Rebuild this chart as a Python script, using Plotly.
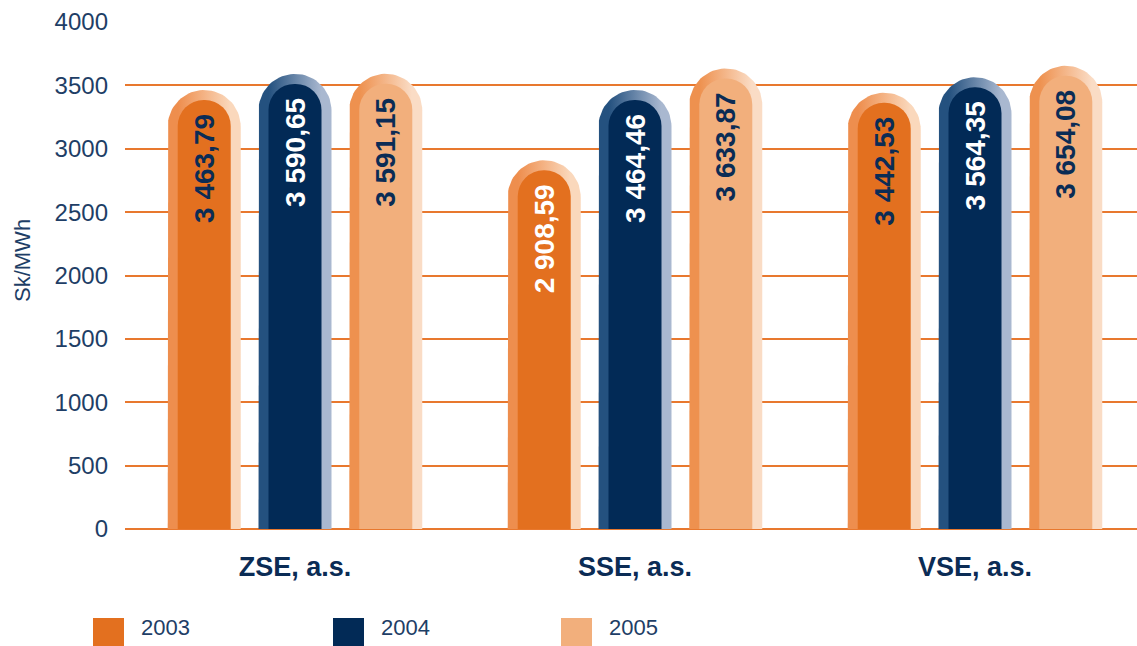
import numpy as np
import plotly.graph_objects as go

# ---------------- data ----------------
categories = ["ZSE, a.s.", "SSE, a.s.", "VSE, a.s."]
years = ["2003", "2004", "2005"]
v2003 = [3463.79, 2908.59, 3442.53]
v2004 = [3590.65, 3464.46, 3564.35]
v2005 = [3591.15, 3633.87, 3654.08]
y_ticks = [0, 500, 1000, 1500, 2000, 2500, 3000, 3500, 4000]
y_title = "Sk/MWh"

# ---------------- style ----------------
W, H = 1137, 646
ML, MR, MT, MB = 125, 0, 22, 117
PW, PH = W - ML - MR, H - MT - MB
X_RANGE = [-0.5, -0.5 + PW / 340.0]
Y_RANGE = [0, 4000]
XPD = (X_RANGE[1] - X_RANGE[0]) / PW      # data units per px (x)
YPD = (Y_RANGE[1] - Y_RANGE[0]) / PH      # data units per px (y)

main_col = ["#E3701F", "#022A56", "#F2AF7C"]
left_col = ["#EE8E4E", "#24517F", "#EE914F"]
right_col = ["#FAD8BC", "#A9B8D0", "#FADCC5"]
NAVY = "#0B2C55"
label_cols = [[NAVY, "white", NAVY], ["white", "white", "white"], [NAVY, NAVY, NAVY]]
offsets = [-0.267, 0.0, 0.267]
OUTER_PX = 73
INNER_PX = 53
INSET_PX = 10
TEXT_INSET_PX = 21
GRID = "#E8782E"
TXT = "#1E3E66"
FONT = "Liberation Sans, Arial, sans-serif"

series = [v2003, v2004, v2005]


def fmt(v):
    s = f"{v:,.2f}"
    return s.replace(",", " ").replace(".", ",")


fig = go.Figure()

# outer capsules with horizontal gradient (main axes)
hw = OUTER_PX / 2 * XPD
r_y = OUTER_PX / 2 * YPD
t = np.linspace(np.pi, 0, 40)
for si, vals in enumerate(series):
    for ci, v in enumerate(vals):
        cx = ci + offsets[si]
        yc = v - r_y
        xs = [cx - hw, cx - hw] + list(cx + hw * np.cos(t)) + [cx + hw, cx - hw]
        ys = [0, yc] + list(yc + r_y * np.sin(t)) + [0, 0]
        fig.add_trace(go.Scatter(
            x=xs, y=ys, mode="lines", fill="toself",
            line=dict(width=0, color=left_col[si]),
            fillgradient=dict(type="horizontal",
                              colorscale=[[0, left_col[si]], [0.14, left_col[si]],
                                          [0.86, right_col[si]], [1, right_col[si]]]),
            hoverinfo="skip", showlegend=False))

# inner bars (overlay axes so they sit above the capsules)
iw = INNER_PX * XPD
xs_cat = list(range(len(categories)))
for si, vals in enumerate(series):
    fig.add_trace(go.Bar(
        x=xs_cat, y=[v - INSET_PX * YPD for v in vals],
        width=iw, offset=offsets[si] - iw / 2,
        marker=dict(color=main_col[si], line=dict(width=0), cornerradius="50%"),
        name=years[si], showlegend=False, hoverinfo="skip",
        xaxis="x2", yaxis="y2"))

# value labels (carried by transparent bars, anchored near the top)
for si, vals in enumerate(series):
    fig.add_trace(go.Bar(
        x=xs_cat, y=[v - TEXT_INSET_PX * YPD for v in vals],
        width=iw, offset=offsets[si] - iw / 2,
        marker=dict(color="rgba(0,0,0,0)", line=dict(width=0)),
        text=[fmt(v) for v in vals], textangle=-90, textposition="inside",
        insidetextanchor="end", constraintext="none",
        textfont=dict(family=FONT, size=28, color=label_cols[si], weight="bold"),
        showlegend=False, hoverinfo="skip", xaxis="x2", yaxis="y2"))

fig.update_layout(
    width=W, height=H, margin=dict(l=ML, r=MR, t=MT, b=MB, autoexpand=False),
    paper_bgcolor="white", plot_bgcolor="white", barmode="overlay",
    showlegend=False,
    xaxis=dict(range=X_RANGE, tickmode="array", tickvals=xs_cat,
               ticktext=categories, showgrid=False, zeroline=False, showline=False,
               ticks="", ticklabelstandoff=19,
               tickfont=dict(family=FONT, size=27, color=NAVY, weight="bold")),
    yaxis=dict(range=Y_RANGE, tickmode="array", tickvals=y_ticks,
               showgrid=True, gridcolor=GRID, gridwidth=2,
               zeroline=True, zerolinecolor=GRID, zerolinewidth=2,
               showline=False, ticks="", ticklabelstandoff=16,
               tickfont=dict(family=FONT, size=24, color=TXT)),
    xaxis2=dict(range=X_RANGE, overlaying="x", visible=False),
    yaxis2=dict(range=Y_RANGE, overlaying="y", visible=False),
)

# y axis title
fig.add_annotation(xref="paper", yref="paper", x=(22 - ML) / PW, y=(H - MB - 261) / PH,
                   text=y_title, textangle=-90, showarrow=False,
                   xanchor="center", yanchor="middle",
                   font=dict(family=FONT, size=22, color=TXT))

# legend (manual, large swatches)
leg_x = [93, 333, 561]
for si, yr in enumerate(years):
    x0 = (leg_x[si] - ML) / PW
    x1 = (leg_x[si] + 31 - ML) / PW
    y0 = (H - MB - 646) / PH
    y1 = (H - MB - 618) / PH
    fig.add_shape(type="rect", xref="paper", yref="paper", x0=x0, x1=x1, y0=y0, y1=y1,
                  fillcolor=main_col[si], line=dict(width=0), layer="above")
    fig.add_annotation(xref="paper", yref="paper", x=(leg_x[si] + 46 - ML) / PW,
                       y=(H - MB - 628) / PH, text=yr, showarrow=False,
                       xanchor="left", yanchor="middle",
                       font=dict(family=FONT, size=22, color=TXT))

fig.write_html("out.html", config={"displayModeBar": False},
               post_script="document.body.style.margin='0';document.body.style.overflow='hidden';")
